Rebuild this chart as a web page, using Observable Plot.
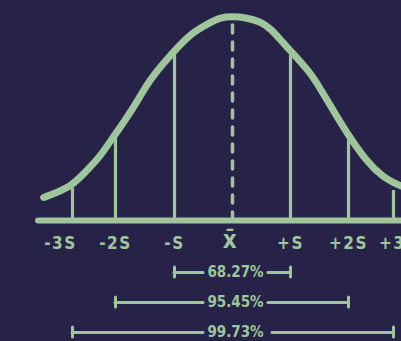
<!DOCTYPE html>
<html>
<head>
<meta charset="utf-8">
<script src="https://cdn.jsdelivr.net/npm/d3@7"></script>
<script src="https://cdn.jsdelivr.net/npm/@observablehq/plot@0.6"></script>
<style>
  html, body { margin: 0; padding: 0; background: #272248; }
</style>
</head>
<body>
<div id="chart"></div>
<script>
// Sigma positions of the marks along the axis and their labels
const ticks = [-3, -2, -1, 0, 1, 2, 3];
const tickLabels = ["-3S", "-2S", "-S", "x\u0304", "+S", "+2S", "+3S"];
// Height (relative to the peak) where each vertical line meets the curve
const tickTops = [0.157, 0.402, 0.809, 0.98, 0.809, 0.392, 0.147];
// Hand-drawn bell curve (x in S units, y relative to peak)
const curveX = [-3.67, -3.37, -3, -2.67, -2.37, -2, -1.86, -1.58, -1.41, -1, -0.72, -0.38, -0.21, 0, 0.22, 0.48, 0.66, 0.88, 1, 1.34, 1.47, 1.81, 2, 2.42, 2.78, 3, 3.18, 3.4];
const curveY = [0.113, 0.137, 0.172, 0.245, 0.309, 0.426, 0.480, 0.608, 0.696, 0.833, 0.917, 0.971, 0.995, 1, 0.995, 0.975, 0.941, 0.868, 0.833, 0.725, 0.667, 0.505, 0.417, 0.284, 0.211, 0.186, 0.167, 0.15];
// Coverage brackets: spread in S and share of values
const bracketK = [1, 2, 3];
const bracketLabels = ["68.27%", "95.45%", "99.73%"];

const green = "#9fc69a";
const bg = "#272248";
const curve = curveX.map((x, i) => ({x, y: curveY[i]}));
const tickData = ticks.map((t, i) => ({t, top: tickTops[i], label: tickLabels[i]}));
const brackets = bracketK.map((k, i) => ({k, label: bracketLabels[i]}));

const PX = 1 / 204; // one pixel in y units
const rowDy = [52, 82, 112];
const font = "'DejaVu Sans Condensed', 'DejaVu Sans', sans-serif";
const labelDx = {"-3": -12, "3": 5};

const marks = [
  // baseline
  Plot.ruleY([0], {x1: -3.79, x2: 3.6, stroke: green, strokeWidth: 6, strokeLinecap: "round"}),
  // vertical lines (except mean)
  Plot.ruleX(tickData.filter(d => d.t !== 0), {x: "t", y1: 0, y2: "top", stroke: green, strokeWidth: 3.2}),
  // mean dashed line
  Plot.ruleX(tickData.filter(d => d.t === 0), {x: "t", y1: 0, y2: "top", stroke: green, strokeWidth: 3.5, strokeDasharray: "8,9", strokeLinecap: "round"}),
  // bell curve
  Plot.line(curve, {x: "x", y: "y", curve: "basis", stroke: green, strokeWidth: 7, strokeLinecap: "round", strokeLinejoin: "round"}),
  // tick labels
  ...tickData.filter(d => d.t !== 0).map(d =>
    Plot.text([d], {x: "t", y: 0, text: "label", dy: 23, dx: labelDx[d.t] || 0, fill: green, fontSize: 17, fontWeight: "bold"})),
  Plot.text(tickData.filter(d => d.t === 0), {x: "t", y: 0, text: "label", dy: 20, dx: -2, fill: green, fontSize: 24, fontWeight: "bold"})
];

brackets.forEach((b, i) => {
  const dy = rowDy[i];
  const gapR = b.k === 3 ? 0.69 : 0.62;
  marks.push(
    Plot.ruleY([0], {x1: -b.k, x2: -0.5, dy, stroke: green, strokeWidth: 3, strokeLinecap: "round"}),
    Plot.ruleY([0], {x1: gapR, x2: b.k, dy, stroke: green, strokeWidth: 3, strokeLinecap: "round"}),
    Plot.ruleX([-b.k, b.k], {x: d => d, y1: -5 * PX, y2: 5 * PX, dy, stroke: green, strokeWidth: 3, strokeLinecap: "round"}),
    Plot.text([b], {x: 0, y: 0, text: "label", dx: 3, dy, fill: green, fontSize: 15, fontWeight: "bold"})
  );
});

const chart = Plot.plot({
  width: 401,
  height: 341,
  margin: 0,
  x: {type: "linear", domain: ticks, range: [72, 115, 174, 232, 290, 348, 393], axis: null},
  y: {domain: [0, 1], range: [220, 16], axis: null},
  style: {background: bg, fontFamily: font, letterSpacing: "1.5px", overflow: "hidden"},
  marks
});
// no extra letter spacing for the percentage labels
chart.querySelectorAll("text").forEach(t => {
  if (/%/.test(t.textContent)) t.style.letterSpacing = "0px";
});
document.getElementById("chart").appendChild(chart);
</script>
</body>
</html>
